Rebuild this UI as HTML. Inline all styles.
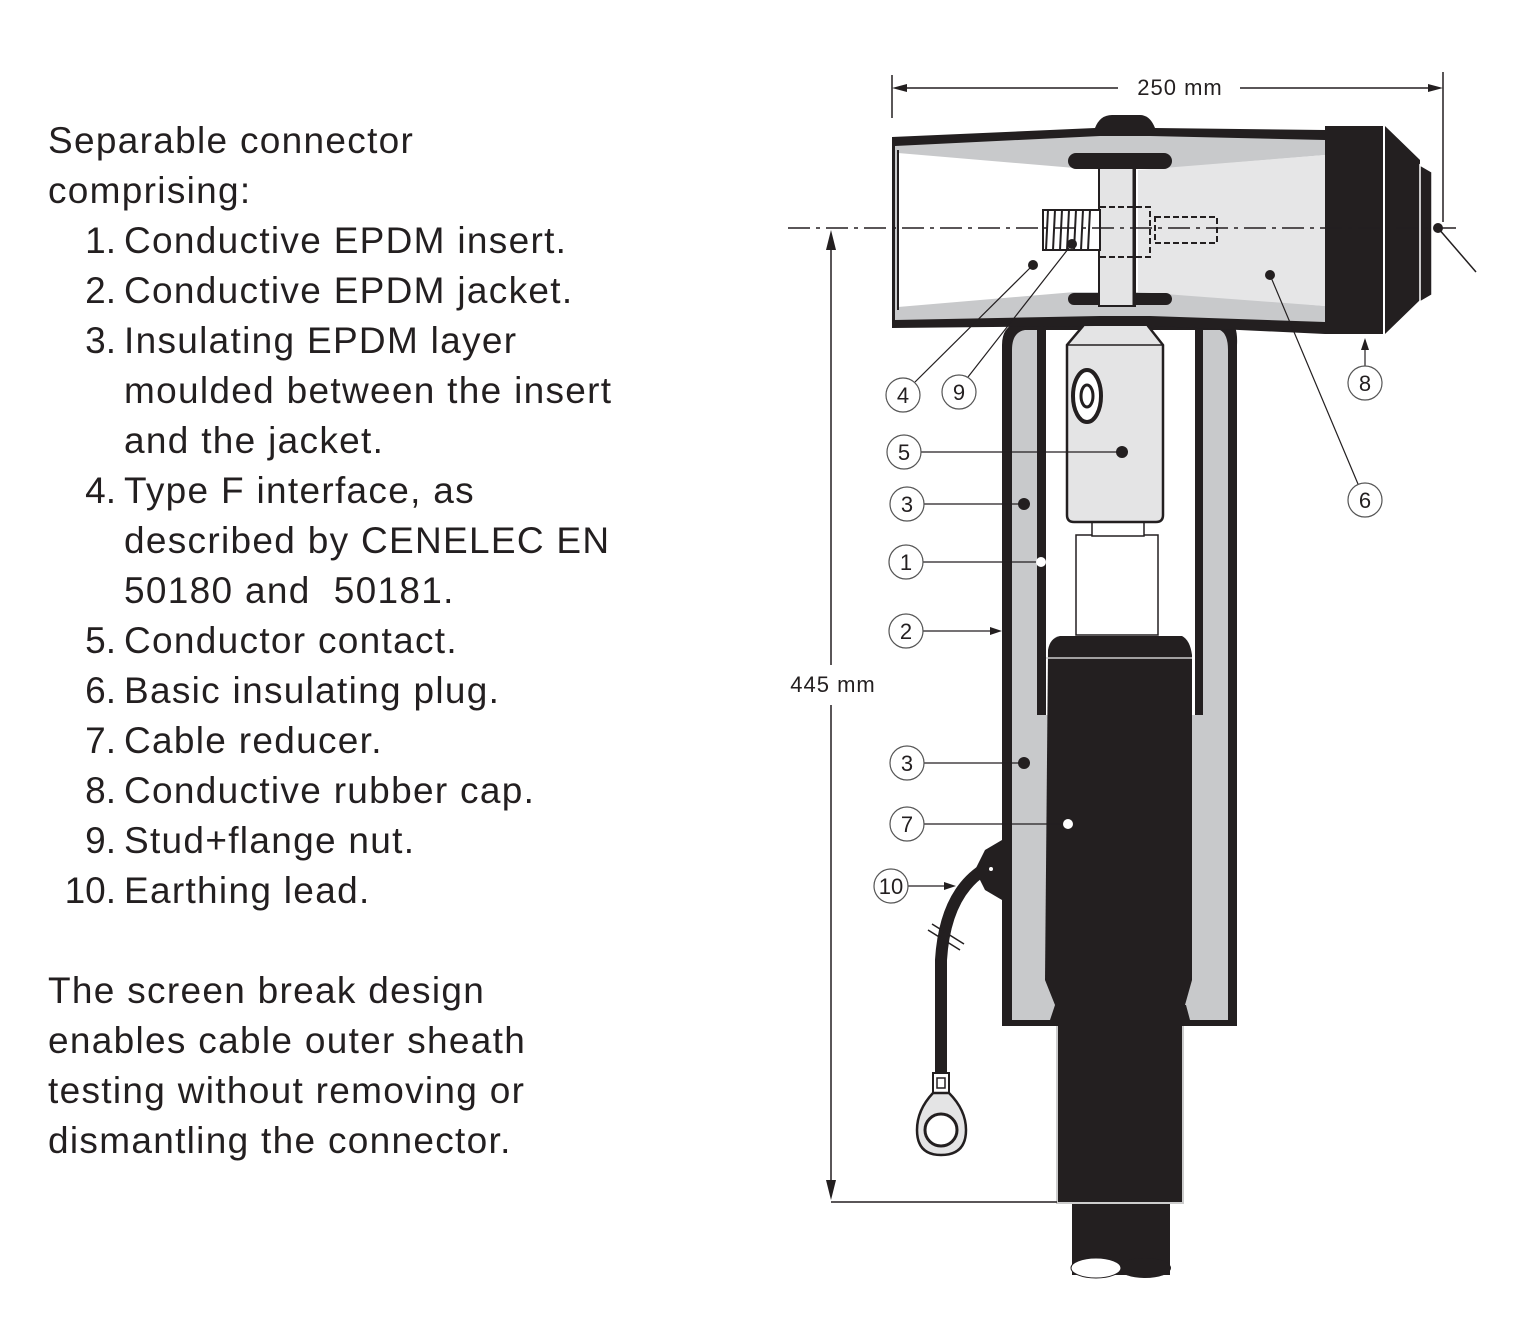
<!DOCTYPE html>
<html><head><meta charset="utf-8"><style>
html,body{margin:0;padding:0;background:#fff}
.l{position:absolute;font-family:"Liberation Sans",sans-serif;font-size:37px;letter-spacing:1.3px;color:#231f20;line-height:50px;white-space:pre}
.n{position:absolute;left:40px;width:76px;text-align:right;font-family:"Liberation Sans",sans-serif;font-size:37px;color:#231f20;line-height:50px}
</style></head><body>
<div style="position:relative;width:1520px;height:1336px;overflow:hidden">
<div class="l" style="left:48px;top:116px">Separable connector</div>
<div class="l" style="left:48px;top:166px">comprising:</div>
<div class="n" style="top:216px">1.</div><div class="l" style="left:124px;top:216px">Conductive EPDM insert.</div>
<div class="n" style="top:266px">2.</div><div class="l" style="left:124px;top:266px">Conductive EPDM jacket.</div>
<div class="n" style="top:316px">3.</div><div class="l" style="left:124px;top:316px">Insulating EPDM layer</div>
<div class="l" style="left:124px;top:366px">moulded between the insert</div>
<div class="l" style="left:124px;top:416px">and the jacket.</div>
<div class="n" style="top:466px">4.</div><div class="l" style="left:124px;top:466px">Type F interface, as</div>
<div class="l" style="left:124px;top:516px">described by CENELEC EN</div>
<div class="l" style="left:124px;top:566px">50180 and  50181.</div>
<div class="n" style="top:616px">5.</div><div class="l" style="left:124px;top:616px">Conductor contact.</div>
<div class="n" style="top:666px">6.</div><div class="l" style="left:124px;top:666px">Basic insulating plug.</div>
<div class="n" style="top:716px">7.</div><div class="l" style="left:124px;top:716px">Cable reducer.</div>
<div class="n" style="top:766px">8.</div><div class="l" style="left:124px;top:766px">Conductive rubber cap.</div>
<div class="n" style="top:816px">9.</div><div class="l" style="left:124px;top:816px">Stud+flange nut.</div>
<div class="n" style="top:866px">10.</div><div class="l" style="left:124px;top:866px">Earthing lead.</div>
<div class="l" style="left:48px;top:966px">The screen break design</div>
<div class="l" style="left:48px;top:1016px">enables cable outer sheath</div>
<div class="l" style="left:48px;top:1066px">testing without removing or</div>
<div class="l" style="left:48px;top:1116px">dismantling the connector.</div>
<svg width="1520" height="1336" style="position:absolute;left:0;top:0" font-family="Liberation Sans,sans-serif">
<g fill="#231f20" stroke="none">
<rect x="1072" y="1195" width="98" height="80"/>
<ellipse cx="1145" cy="1268" rx="26" ry="10"/>
<ellipse cx="1096" cy="1268" rx="25" ry="10" fill="#fff" stroke="#231f20" stroke-width="1"/>
<rect x="1057" y="1008" width="126" height="195" stroke="#ccc" stroke-width="2"/>
<path d="M1002,345 Q1002,325 1020,322 L1230,322 Q1238,325 1237,345 L1237,1026 L1002,1026 Z"/>
</g>
<path d="M1012,350 Q1012,332 1025,330 L1220,330 Q1228,334 1228,350 L1228,1020 L1190,1020 L1186,1005 L1055,1005 L1050,1020 L1012,1020 Z" fill="#c8c9cb"/>
<path d="M1037,320 L1203,320 L1203,715 L1037,715 Z" fill="#231f20"/>
<path d="M1046,330 L1195,330 L1195,715 L1046,715 Z" fill="#fff"/>
<path d="M1048,650 Q1050,638 1060,636 L1182,636 Q1190,640 1192,655 L1192,980 L1185,1005 L1055,1005 L1045,980 Z" fill="#231f20"/>
<line x1="1046" y1="658" x2="1192" y2="658" stroke="#ccc" stroke-width="1.5"/>
<rect x="1076" y="535" width="82" height="100" fill="#fff" stroke="#231f20" stroke-width="1.5"/>
<rect x="1092" y="522" width="52" height="14" fill="#fff" stroke="#231f20" stroke-width="1.5"/>
<path d="M1083,312 L1148,312 L1148,326 L1163,345 L1163,515 Q1163,522 1156,522 L1074,522 Q1067,522 1067,515 L1067,345 L1083,326 Z" fill="#e4e4e5" stroke="#231f20" stroke-width="2.5"/>
<line x1="1067" y1="345" x2="1163" y2="345" stroke="#231f20" stroke-width="1.5"/>
<ellipse cx="1087" cy="396" rx="14" ry="26" fill="#fff" stroke="#231f20" stroke-width="4"/>
<ellipse cx="1087" cy="396" rx="6" ry="11" fill="none" stroke="#231f20" stroke-width="3"/>
<path d="M892,137 L1095,128 Q1100,115 1112,115 L1140,115 Q1150,115 1155,128 L1325,130 L1325,334 L1155,326 L1095,326 L892,328 Z" fill="#231f20"/>
<path d="M895,146 L1100,136 L1150,136 L1325,140 L1325,322 L1150,316 L1100,316 L895,320 Z" fill="#c8c9cb"/>
<path d="M898,153 L1075,168 L1170,168 L1325,155 L1325,306 L1170,292 L1075,292 L898,307 Z" fill="#fff"/>
<path d="M1138,170 L1325,155 L1325,306 L1138,292 Z" fill="#e6e6e7"/>
<line x1="898" y1="150" x2="898" y2="310" stroke="#231f20" stroke-width="2"/>
<rect x="1068" y="153" width="104" height="16" rx="8" fill="#231f20"/>
<rect x="1068" y="293" width="104" height="12" rx="6" fill="#231f20"/>
<rect x="1099" y="168" width="36" height="138" fill="#e4e4e5" stroke="#231f20" stroke-width="2"/>
<line x1="1134" y1="168" x2="1134" y2="306" stroke="#231f20" stroke-width="3"/>
<g stroke="#231f20" stroke-width="2" fill="#fff">
<path d="M1043,210 L1100,210 L1100,250 L1043,250 Z"/>
<path d="M1048,210 L1046,250 M1055,210 L1053,250 M1062,210 L1060,250 M1069,210 L1067,250 M1076,210 L1074,250 M1083,210 L1081,250 M1090,210 L1088,250" fill="none"/>
</g>
<g stroke="#231f20" stroke-width="2" stroke-dasharray="6,3" fill="none">
<path d="M1100,207 L1150,207 L1150,257 L1100,257"/>
<rect x="1155" y="217" width="62" height="26"/>
</g>
<path d="M1325,126 L1385,126 L1420,160 L1420,300 L1385,334 L1325,334 Z" fill="#231f20"/>
<line x1="1384" y1="126" x2="1384" y2="334" stroke="#fff" stroke-width="2"/>
<path d="M1420,165 L1432,172 L1432,295 L1420,302 Z" fill="#231f20" stroke="#fff" stroke-width="1.5"/>
<circle cx="1438" cy="228" r="5" fill="#231f20"/>
<line x1="1438" y1="228" x2="1476" y2="272" stroke="#231f20" stroke-width="1.5"/>
<path d="M1002,840 L985,850 L975,870 L985,890 L1002,900 Z" fill="#231f20"/>
<circle cx="991" cy="869" r="2" fill="#fff"/>
<path d="M983,870 Q945,895 941,960 L941,1075" fill="none" stroke="#231f20" stroke-width="12"/>
<path d="M928,930 L960,950 M932,924 L964,944" stroke="#231f20" stroke-width="1.5"/>
<rect x="933" y="1073" width="16" height="20" fill="#fff" stroke="#231f20" stroke-width="2"/>
<rect x="937" y="1078" width="8" height="10" fill="#fff" stroke="#231f20" stroke-width="1.5"/>
<path d="M933,1093 L949,1093 Q966,1110 966,1130 Q966,1155 941,1155 Q917,1155 917,1130 Q917,1110 933,1093 Z" fill="#e4e4e5" stroke="#231f20" stroke-width="2.5"/>
<circle cx="941" cy="1130" r="16" fill="#fff" stroke="#231f20" stroke-width="3"/>
<g stroke="#231f20" stroke-width="1.5" fill="none">
<line x1="892" y1="75" x2="892" y2="118"/>
<line x1="1443" y1="72" x2="1443" y2="222"/>
<line x1="900" y1="88" x2="1118" y2="88"/>
<line x1="1240" y1="88" x2="1435" y2="88"/>
<line x1="831" y1="240" x2="831" y2="665"/>
<line x1="831" y1="705" x2="831" y2="1190"/>
<line x1="831" y1="1202" x2="1057" y2="1202"/>
<line x1="788" y1="228" x2="1462" y2="228" stroke-dasharray="22,6,4,6"/>
</g>
<g fill="#231f20">
<path d="M892,88 L907,84 L907,92 Z"/><path d="M1443,88 L1428,84 L1428,92 Z"/>
<path d="M831,230 L826,250 L836,250 Z"/><path d="M831,1200 L826,1180 L836,1180 Z"/>
</g>
<text x="1180" y="95" font-size="22" letter-spacing="1" text-anchor="middle" fill="#231f20">250 mm</text>
<text x="833" y="692" font-size="22" letter-spacing="1" text-anchor="middle" fill="#231f20">445 mm</text>
<g stroke="#231f20" stroke-width="1.2" fill="none">
<line x1="915" y1="382" x2="1033" y2="265"/>
<line x1="968" y1="377" x2="1072" y2="244"/>
<line x1="1365" y1="366" x2="1365" y2="340"/>
<line x1="921" y1="452" x2="1122" y2="452"/>
<line x1="924" y1="504" x2="1024" y2="504"/>
<line x1="1358" y1="484" x2="1270" y2="275"/>
<line x1="923" y1="562" x2="1041" y2="562"/>
<line x1="923" y1="631" x2="998" y2="631"/>
<line x1="924" y1="763" x2="1024" y2="763"/>
<line x1="924" y1="824" x2="1068" y2="824"/>
<line x1="908" y1="886" x2="952" y2="886"/>
</g>
<g fill="#231f20">
<circle cx="1033" cy="265" r="5"/><circle cx="1072" cy="244" r="5"/>
<circle cx="1122" cy="452" r="6"/><circle cx="1024" cy="504" r="6"/>
<circle cx="1270" cy="275" r="5"/><circle cx="1024" cy="763" r="6"/>
<path d="M1365,338 L1361,350 L1369,350 Z"/>
<path d="M1002,631 L990,627 L990,635 Z"/>
<path d="M956,886 L944,882 L944,890 Z"/>
</g>
<circle cx="1041" cy="562" r="5" fill="#fff"/><circle cx="1068" cy="824" r="5" fill="#fff"/>
<g fill="#fff" stroke="#555" stroke-width="1.2">
<circle cx="903" cy="395" r="17"/><circle cx="959" cy="392" r="17"/>
<circle cx="1365" cy="383" r="17"/><circle cx="904" cy="452" r="17"/>
<circle cx="907" cy="504" r="17"/><circle cx="1365" cy="500" r="17"/>
<circle cx="906" cy="562" r="17"/><circle cx="906" cy="631" r="17"/>
<circle cx="907" cy="763" r="17"/><circle cx="907" cy="824" r="17"/>
<circle cx="891" cy="886" r="17"/>
</g>
<g font-size="22" text-anchor="middle" fill="#231f20">
<text x="903" y="403">4</text><text x="959" y="400">9</text>
<text x="1365" y="391">8</text><text x="904" y="460">5</text>
<text x="907" y="512">3</text><text x="1365" y="508">6</text>
<text x="906" y="570">1</text><text x="906" y="639">2</text>
<text x="907" y="771">3</text><text x="907" y="832">7</text>
<text x="891" y="894">10</text>
</g>
</svg>
</div>
</body></html>
